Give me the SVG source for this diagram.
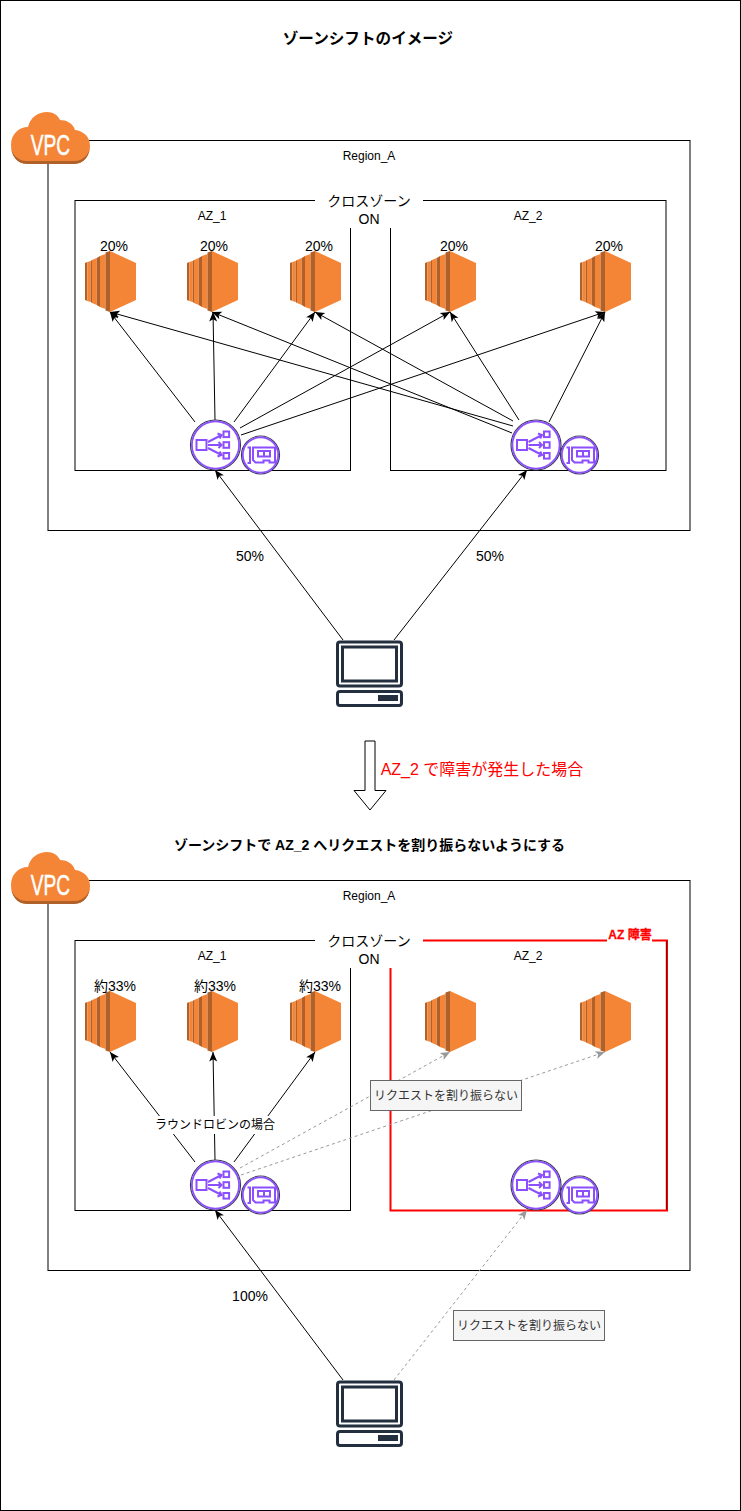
<svg xmlns="http://www.w3.org/2000/svg" xmlns:xlink="http://www.w3.org/1999/xlink" width="741" height="1511" viewBox="0 0 741 1511">
<style>
text{font-family:"Liberation Sans","Noto Sans CJK JP",sans-serif;fill:#000;text-anchor:middle;dominant-baseline:central}
.box{fill:#fff;stroke:#000;stroke-width:1}
.nofill{fill:none;stroke:#000;stroke-width:1}
.a{fill:none;stroke:#000;stroke-width:1;marker-end:url(#ah)}
.d{fill:none;stroke:#999;stroke-width:1;stroke-dasharray:3 3;marker-end:url(#ahg)}
.s12{font-size:12px}.s14{font-size:14px}
.tag{fill:#f5f5f5;stroke:#666;stroke-width:1}
.o{fill:#f58536}.k{fill:#b0612a}
.p{fill:none;stroke:#8c4fff;stroke-width:2}
.c{fill:none;stroke:#232f3e;stroke-width:3}
</style>
<defs>
<marker id="ah" markerUnits="userSpaceOnUse" markerWidth="12" markerHeight="10" refX="10" refY="5" orient="auto"><path d="M0.5,1 L10,5 L0.5,9 L2.8,5 Z" fill="#000"/></marker>
<marker id="ahg" markerUnits="userSpaceOnUse" markerWidth="12" markerHeight="10" refX="10" refY="5" orient="auto"><path d="M0.5,1 L10,5 L0.5,9 L2.8,5 Z" fill="#999"/></marker>
<g id="ec2">
<path class="k" d="M0,12 L2.3,11 V50 L0,49 Z"/><path class="o" d="M2.3,11 L5.7,10 V51 L2.3,50 Z"/>
<path class="k" d="M5.7,10 L7,9 V52 L5.7,51 Z"/><path class="o" d="M7,9 L11.7,7 V54 L7,52 Z"/>
<path class="k" d="M11.7,7 L15,5 V56 L11.7,54 Z"/><path class="o" d="M15,5 L20.5,3 V58 L15,56 Z"/>
<path class="k" d="M20.5,1.5 L25,0 V61 L20.5,59.5 Z"/>
<path class="o" d="M25,0 L51,12 V49 L25,61 Z"/>
</g>
<g id="lb">
<circle r="25" fill="#fff" stroke="#3b3b55" stroke-width="1.2"/><circle r="23.6" fill="none" stroke="#8c4fff" stroke-width="1.8"/>
<rect class="p" x="-19" y="-5" width="10" height="10"/>
<rect class="p" x="8" y="-13.5" width="5.6" height="5.6"/><rect class="p" x="8" y="-2.8" width="5.6" height="5.6"/><rect class="p" x="8" y="8" width="5.6" height="5.6"/>
<path class="p" d="M-7.5,-3 L6,-10 M2,-11.5 L6,-10 L4.2,-6.5 M-7.5,0 H6 M3,-3 L6,0 L3,3 M-7.5,3 L6,10 M4.2,6.5 L6,10 L2,11.5"/>
</g>
<g id="eni">
<circle r="19" fill="#fff" stroke="#3b3b55" stroke-width="1.2"/><circle r="17.7" fill="none" stroke="#8c4fff" stroke-width="1.8"/>
<path class="p" d="M-13,-7.5 H-10.5 V8 H-13 M-7.5,-7.5 H14.5 V7.5 H9 V5.5 H3 V7.5 H-5 L-7.5,5 Z"/>
<path class="p" stroke-width="1.5" d="M-2.5,-4 H9.5 V1.5 H-2.5 Z M3.5,-4 V1.5"/>
</g>
<g id="pc">
<rect class="c" x="337.5" y="642" width="64" height="44" rx="2.5"/>
<rect class="c" x="342.5" y="647" width="54" height="34"/>
<rect class="c" x="337.5" y="691.5" width="64" height="14" rx="2.5"/>
<rect x="378" y="695" width="20" height="6" fill="#232f3e"/>
</g>
<g id="vpc">
<path d="M11,145 C11,134 19,127 28,127 C30,117 39,112 47,112 C53,112 58,115 60,120 C66,120 73,123 75,130 C84,131 90,137 90,146 C90,155 84,164 74,164 H27 C17,164 11,155 11,145 Z" fill="#f58536"/>
<path d="M11,146 C11,155 17,164 27,164 H74 C84,164 90,155 90,146 C90,153 84,161 74,161 H27 C17,161 11,153 11,146 Z" fill="#b0612a"/>
<text transform="translate(50.5,145) scale(.66,1)" font-size="29" style="fill:#fff;stroke:#fff;stroke-width:.5">VPC</text>
</g>
</defs>
<rect id="frame" x="0.5" y="0.5" width="740" height="1510" fill="#fff" stroke="#000"/>
<text x="368" y="38" font-size="15.6" font-weight="bold">ゾーンシフトのイメージ</text>

<g id="region-a-top"><rect class="box" x="48" y="140.5" width="642" height="390"/><text class="s12" x="369" y="156">Region_A</text></g>
<g id="az1-top"><rect class="nofill" x="75" y="200.5" width="275.5" height="270"/><text class="s12" x="212" y="216">AZ_1</text></g>
<g id="az2-top"><rect class="nofill" x="390.5" y="200.5" width="275.5" height="270"/><text class="s12" x="528" y="216">AZ_2</text></g>
<g id="crosszone-top"><rect x="315" y="190" width="108" height="38" fill="#fff"/><text class="s14" x="369" y="201">クロスゾーン</text><text class="s14" x="369" y="219">ON</text></g>

<g id="region-a-bottom"><rect class="box" x="48" y="880.5" width="642" height="390"/><text class="s12" x="369" y="896">Region_A</text></g>
<g id="az1-bottom"><rect class="nofill" x="75" y="940.5" width="275.5" height="270"/><text class="s12" x="212" y="956">AZ_1</text></g>
<g id="az2-bottom"><rect x="390.5" y="940.5" width="276.5" height="270" fill="none" stroke="#f00" stroke-width="2"/><path d="M666.5,941 V1209.5" fill="none" stroke="#900" stroke-width="1.4"/><text class="s12" x="528" y="956">AZ_2</text></g>
<g id="crosszone-bottom"><rect x="315" y="930" width="108" height="38" fill="#fff"/><text class="s14" x="369" y="941">クロスゾーン</text><text class="s14" x="369" y="959">ON</text></g>
<g id="az-fault"><rect x="607" y="930" width="45" height="14" fill="#fff"/><text x="630" y="935" font-size="12" font-weight="bold" style="fill:#f00;stroke:#f00;stroke-width:.3">AZ 障害</text></g>

<g id="connectors">
<path class="a" d="M195,422 L110,312"/><path class="a" d="M215,420 L213,312"/><path class="a" d="M234,422 L315,312"/><path class="a" d="M240,428 L450,312"/><path class="a" d="M241,435 L605,312"/>
<path class="a" d="M513,426 L110,312"/><path class="a" d="M512,433 L212,312"/><path class="a" d="M513,421 L315,312"/><path class="a" d="M519,420 L450,312"/><path class="a" d="M549,422 L605,312"/>
<path class="a" d="M343,640 L215,470"/><path class="a" d="M394,640 L527,470"/>
<path class="a" d="M195,1162 L110,1052"/><path class="a" d="M215,1160 L213,1052"/><path class="a" d="M234,1162 L315,1052"/>
<path class="d" d="M240,1168 L450,1052"/><path class="d" d="M241,1175 L605,1052"/>
<path class="a" d="M343,1380 L215,1210"/><path class="d" d="M394,1380 L527,1210"/>
</g>

<g id="ec2-t1"><use href="#ec2" x="85" y="251"/><text class="s14" x="114" y="246">20%</text></g>
<g id="ec2-t2"><use href="#ec2" x="187" y="251"/><text class="s14" x="214" y="246">20%</text></g>
<g id="ec2-t3"><use href="#ec2" x="290" y="251"/><text class="s14" x="319" y="246">20%</text></g>
<g id="ec2-t4"><use href="#ec2" x="425" y="251"/><text class="s14" x="454" y="246">20%</text></g>
<g id="ec2-t5"><use href="#ec2" x="580" y="251"/><text class="s14" x="609" y="246">20%</text></g>
<g id="lb-t1"><use href="#lb" x="215.5" y="445"/></g>
<g id="eni-t1"><use href="#eni" x="260.5" y="455"/></g>
<g id="lb-t2"><use href="#lb" x="536" y="445"/></g>
<g id="eni-t2"><use href="#eni" x="579.5" y="455"/></g>
<g id="client-top"><use href="#pc"/></g>
<g id="vpc-top"><use href="#vpc"/></g>
<text class="s14" x="250" y="556">50%</text>
<text class="s14" x="490" y="556">50%</text>

<path id="down-arrow" d="M365,741 H375 V790.5 H386 L370,810 L354,790.5 H365 Z" fill="#fff" stroke="#000"/>
<text x="482" y="769" font-size="16" style="fill:#f00">AZ_2 で障害が発生した場合</text>
<text class="s14" x="369.5" y="845" font-weight="bold">ゾーンシフトで AZ_2 へリクエストを割り振らないようにする</text>

<g id="ec2-b1"><use href="#ec2" x="85" y="991"/><text class="s14" x="115" y="986">約33%</text></g>
<g id="ec2-b2"><use href="#ec2" x="187" y="991"/><text class="s14" x="215" y="986">約33%</text></g>
<g id="ec2-b3"><use href="#ec2" x="290" y="991"/><text class="s14" x="320" y="986">約33%</text></g>
<g id="ec2-b4"><use href="#ec2" x="425" y="991"/></g>
<g id="ec2-b5"><use href="#ec2" x="580" y="991"/></g>
<g id="lb-b1"><use href="#lb" x="215.5" y="1185"/></g>
<g id="eni-b1"><use href="#eni" x="260.5" y="1195"/></g>
<g id="lb-b2"><use href="#lb" x="536" y="1185"/></g>
<g id="eni-b2"><use href="#eni" x="579.5" y="1195"/></g>
<g id="client-bottom"><use href="#pc" y="740"/></g>
<g id="vpc-bottom"><use href="#vpc" y="740"/></g>
<g id="roundrobin"><rect x="155" y="1116" width="120" height="18" fill="#fff"/><text class="s12" x="215" y="1125">ラウンドロビンの場合</text></g>
<g id="no-route-1"><rect class="tag" x="370.5" y="1080.5" width="151" height="30"/><text class="s12" x="446" y="1095.5" style="fill:#333">リクエストを割り振らない</text></g>
<g id="no-route-2"><rect class="tag" x="453.5" y="1310.5" width="151" height="30"/><text class="s12" x="529" y="1325.5" style="fill:#333">リクエストを割り振らない</text></g>
<text class="s14" x="250" y="1296">100%</text>
</svg>
